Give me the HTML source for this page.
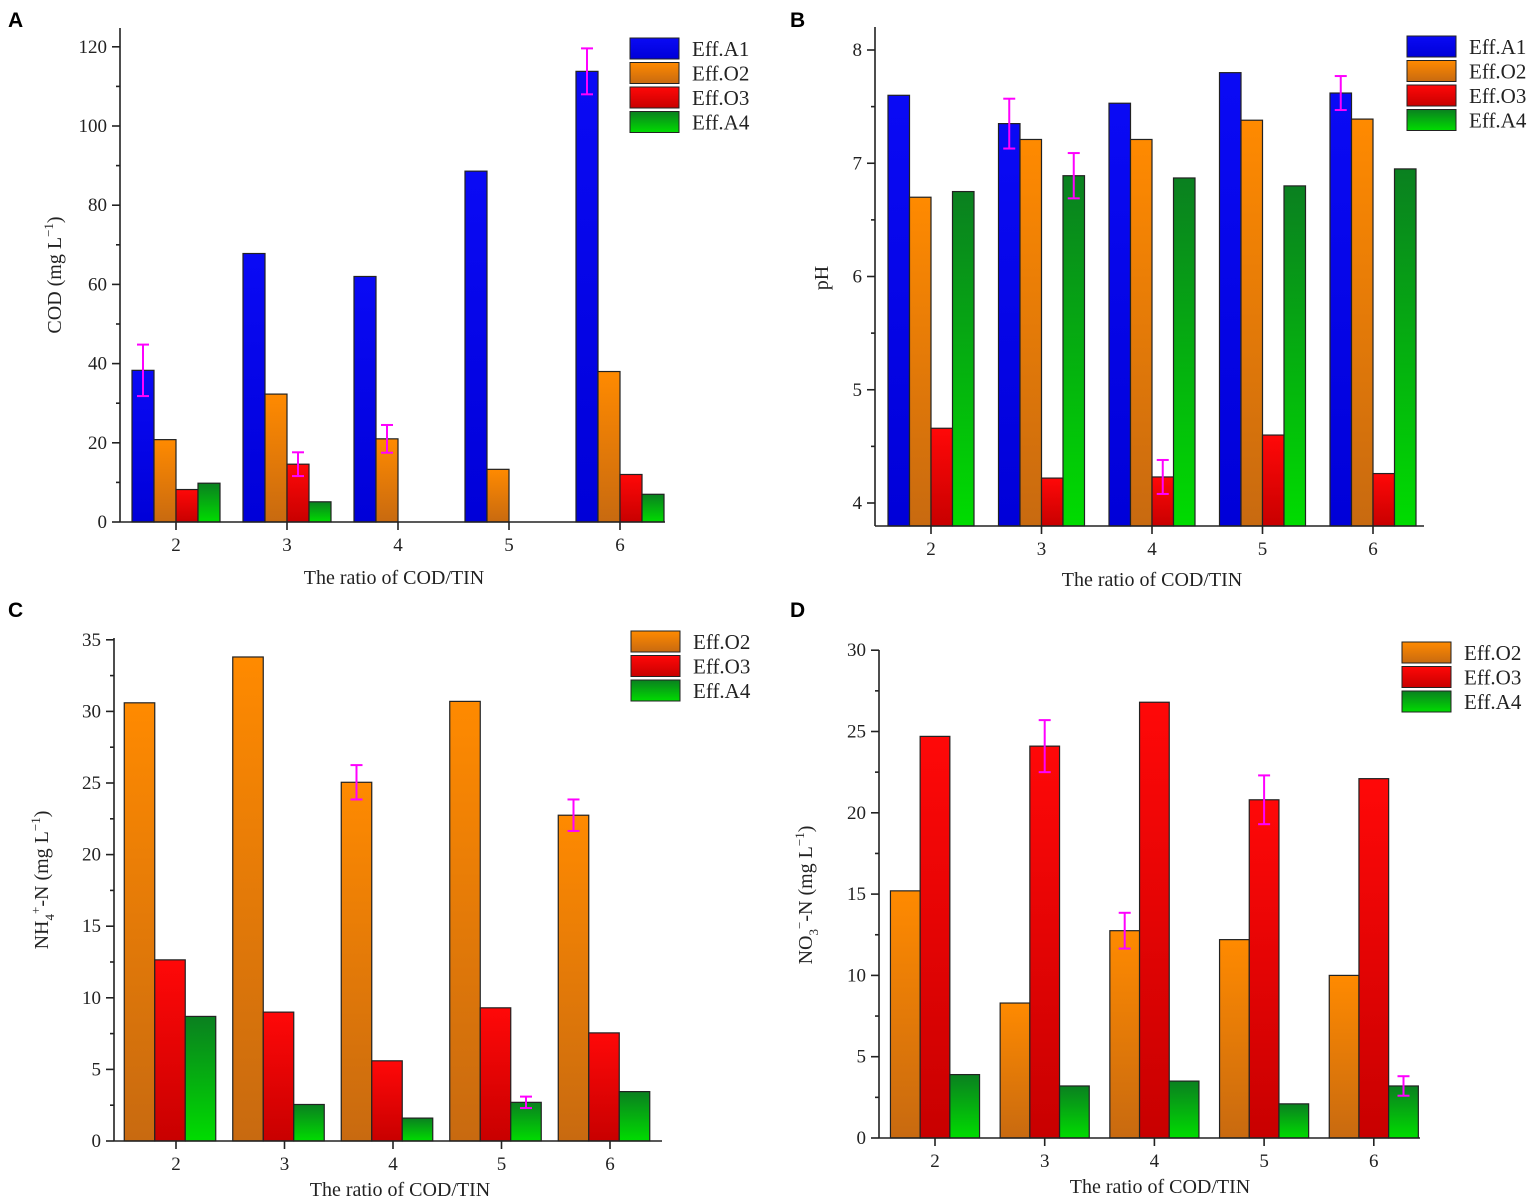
<!DOCTYPE html>
<html><head><meta charset="utf-8"><style>
body{margin:0;background:#fff;}
svg{display:block;font-family:"Liberation Serif",serif;}
</style></head><body>
<svg id="fig" width="1535" height="1199" viewBox="0 0 1535 1199">
<defs>
<linearGradient id="gA1" x1="0" y1="0" x2="0" y2="1"><stop offset="0" stop-color="#0a0af5"/><stop offset="1" stop-color="#0000d8"/></linearGradient>
<linearGradient id="gO2" x1="0" y1="0" x2="0" y2="1"><stop offset="0" stop-color="#ff8a00"/><stop offset="1" stop-color="#c86a10"/></linearGradient>
<linearGradient id="gO3" x1="0" y1="0" x2="0" y2="1"><stop offset="0" stop-color="#ff0808"/><stop offset="1" stop-color="#c80000"/></linearGradient>
<linearGradient id="gA4" x1="0" y1="0" x2="0" y2="1"><stop offset="0" stop-color="#0a8020"/><stop offset="1" stop-color="#00dc00"/></linearGradient>
</defs>
</svg>
<script>
const categories = [2,3,4,5,6];
// Panel A: COD
const codA1 = [38.3,67.8,62,88.6,113.8];
const codO2 = [20.8,32.3,21,13.3,38];
const codO3 = [8.2,14.6,0,0,12];
const codA4 = [9.8,5.1,0,0,7];
const codErrA1 = [6.5,0,0,0,5.8];
const codErrO2 = [0,0,3.5,0,0];
const codErrO3 = [0,3,0,0,0];
const codErrA4 = [0,0,0,0,0];
const codTicks = [0,20,40,60,80,100,120];
// Panel B: pH
const phA1 = [7.6,7.35,7.53,7.8,7.62];
const phO2 = [6.7,7.21,7.21,7.38,7.39];
const phO3 = [4.66,4.22,4.23,4.6,4.26];
const phA4 = [6.75,6.89,6.87,6.8,6.95];
const phErrA1 = [0,0.22,0,0,0.15];
const phErrO2 = [0,0,0,0,0];
const phErrO3 = [0,0,0.15,0,0];
const phErrA4 = [0,0.2,0,0,0];
const phTicks = [4,5,6,7,8];
// Panel C: NH4-N
const nhO2 = [30.6,33.8,25.05,30.7,22.75];
const nhO3 = [12.65,9,5.6,9.3,7.55];
const nhA4 = [8.7,2.55,1.6,2.7,3.45];
const nhErrO2 = [0,0,1.2,0,1.1];
const nhErrO3 = [0,0,0,0,0];
const nhErrA4 = [0,0,0,0.4,0];
const nhTicks = [0,5,10,15,20,25,30,35];
// Panel D: NO3-N
const noO2 = [15.2,8.3,12.75,12.2,10];
const noO3 = [24.7,24.1,26.8,20.8,22.1];
const noA4 = [3.9,3.2,3.5,2.1,3.2];
const noErrO2 = [0,0,1.1,0,0];
const noErrO3 = [0,1.6,0,1.5,0];
const noErrA4 = [0,0,0,0,0.6];
const noTicks = [0,5,10,15,20,25,30];

const NS='http://www.w3.org/2000/svg';
const svg=document.getElementById('fig');
function mk(tag,attrs,parent,text){const e=document.createElementNS(NS,tag);for(const k in attrs)e.setAttribute(k,attrs[k]);if(text!==undefined)e.textContent=text;(parent||svg).appendChild(e);return e;}

function panel(cfg){
  const g=mk('g',{});
  
  
  const y=v=>cfg.y0-(v-cfg.vmin)*cfg.ppu;
  const x=c=>cfg.x2+(c-2)*cfg.step;
  const L=mk('text',{x:cfg.lx,y:cfg.ly,'font-family':'Liberation Sans,sans-serif','font-weight':'bold','font-size':21},g,cfg.letter);
  
  
  cfg.series.forEach((s,si)=>{
    categories.forEach((c,ci)=>{
      const v=s.vals[ci];
      if(v<=cfg.vmin) return;
      const bx=x(c)+cfg.off+(si-cfg.series.length/2)*cfg.bw;
      const r=mk('rect',{x:bx,y:y(v),width:cfg.bw,height:cfg.axisY-y(v),fill:'url(#'+s.grad+')',stroke:'#222','stroke-width':1.2},g);
      
      
      const e=s.err[ci];
      if(e>0){
        const cx=bx+cfg.bw/2;
        const eg=mk('g',{stroke:'#ff00ff','stroke-width':2},g);
        
        
        mk('line',{x1:cx,x2:cx,y1:y(v+e),y2:y(v-e)},eg);
        mk('line',{x1:cx-6,x2:cx+6,y1:y(v+e),y2:y(v+e)},eg);
        mk('line',{x1:cx-6,x2:cx+6,y1:y(v-e),y2:y(v-e)},eg);
      }
    });
  });
  const ax=mk('g',{stroke:'#222','stroke-width':1.6,fill:'none'},g);
  
  
  mk('line',{x1:cfg.axX,x2:cfg.axX,y1:cfg.top,y2:cfg.axisY},ax);
  mk('line',{x1:cfg.axX,x2:cfg.right,y1:cfg.axisY,y2:cfg.axisY},ax);
  cfg.ticks.forEach((t,i)=>{
    mk('line',{x1:cfg.axX-8,x2:cfg.axX,y1:y(t),y2:y(t)},ax);
    if(i<cfg.ticks.length-1){const m=(t+cfg.ticks[i+1])/2;mk('line',{x1:cfg.axX-4,x2:cfg.axX,y1:y(m),y2:y(m)},ax);}
    else if(y(t+(cfg.ticks[1]-cfg.ticks[0])/2)>cfg.top){const m=t+(cfg.ticks[1]-cfg.ticks[0])/2;mk('line',{x1:cfg.axX-4,x2:cfg.axX,y1:y(m),y2:y(m)},ax);}
    const tl=mk('text',{x:cfg.axX-13,y:y(t)+6,'text-anchor':'end','font-size':19,fill:'#222'},g,String(t));
    
    
  });
  categories.forEach(c=>{
    mk('line',{x1:x(c),x2:x(c),y1:cfg.axisY,y2:cfg.axisY+8},ax);
    const tl=mk('text',{x:x(c),y:cfg.axisY+29,'text-anchor':'middle','font-size':19,fill:'#222'},g,String(c));
    
    
  });
  const xt=mk('text',{x:cfg.xtx,y:cfg.axisY+cfg.xty,'text-anchor':'middle','font-size':20,fill:'#222'},g,'The ratio of COD/TIN');
  
  
  const yt=mk('text',{transform:'translate('+cfg.ytx+','+cfg.yty+') rotate(-90)','text-anchor':'middle','font-size':20,fill:'#222'},g);
  
  
  yt.innerHTML=cfg.ytitle;
  cfg.series.forEach((s,si)=>{
    const ly=cfg.legY+si*24.5;
    const lg=mk('g',{},g);
    
    
    mk('rect',{x:cfg.legX,y:ly,width:49,height:21,fill:'url(#'+s.grad+')',stroke:'#222','stroke-width':1},lg);
    mk('text',{x:cfg.legX+62,y:ly+18,'font-size':21,fill:'#222'},lg,s.label);
  });
}

panel({name:'panel-a-cod',letter:'A',lx:8,ly:27,axX:120,top:28,axisY:522,right:665,y0:522,vmin:0,ppu:79.2/20,x2:176,step:111,bw:22,off:0,xty:62,
  ticks:codTicks,xtx:394,ytx:61,yty:275,ytitle:'COD (mg L<tspan font-size="13" dy="-8">−1</tspan><tspan dy="8">)</tspan>',legX:630,legY:38,
  series:[{label:'Eff.A1',grad:'gA1',vals:codA1,err:codErrA1},{label:'Eff.O2',grad:'gO2',vals:codO2,err:codErrO2},{label:'Eff.O3',grad:'gO3',vals:codO3,err:codErrO3},{label:'Eff.A4',grad:'gA4',vals:codA4,err:codErrA4}]});
panel({name:'panel-b-ph',letter:'B',lx:790,ly:27,axX:875,top:27,axisY:526,right:1424,y0:503,vmin:4,ppu:113.25,x2:931,step:110.5,bw:21.5,off:0,xty:60,
  ticks:phTicks,xtx:1152,ytx:828,yty:278,ytitle:'pH',legX:1407,legY:36,
  series:[{label:'Eff.A1',grad:'gA1',vals:phA1,err:phErrA1},{label:'Eff.O2',grad:'gO2',vals:phO2,err:phErrO2},{label:'Eff.O3',grad:'gO3',vals:phO3,err:phErrO3},{label:'Eff.A4',grad:'gA4',vals:phA4,err:phErrA4}]});
panel({name:'panel-c-nh4',letter:'C',lx:8,ly:617,axX:114,top:638,axisY:1141,right:662,y0:1141,vmin:0,ppu:71.6/5,x2:176,step:108.5,bw:30.5,off:-6,xty:55,
  ticks:nhTicks,xtx:400,ytx:48,yty:880,ytitle:'NH<tspan font-size="13" dy="6">4</tspan><tspan font-size="13" dy="-14">+</tspan><tspan dy="8">-N (mg L</tspan><tspan font-size="13" dy="-8">−1</tspan><tspan dy="8">)</tspan>',legX:631,legY:631,
  series:[{label:'Eff.O2',grad:'gO2',vals:nhO2,err:nhErrO2},{label:'Eff.O3',grad:'gO3',vals:nhO3,err:nhErrO3},{label:'Eff.A4',grad:'gA4',vals:nhA4,err:nhErrA4}]});
panel({name:'panel-d-no3',letter:'D',lx:790,ly:617,axX:879,top:650,axisY:1138,right:1420,y0:1138,vmin:0,ppu:81.3/5,x2:935,step:109.7,bw:29.7,off:0,xty:55,
  ticks:noTicks,xtx:1160,ytx:812,yty:895,ytitle:'NO<tspan font-size="13" dy="6">3</tspan><tspan font-size="13" dy="-14">−</tspan><tspan dy="8">-N (mg L</tspan><tspan font-size="13" dy="-8">−1</tspan><tspan dy="8">)</tspan>',legX:1402,legY:642,
  series:[{label:'Eff.O2',grad:'gO2',vals:noO2,err:noErrO2},{label:'Eff.O3',grad:'gO3',vals:noO3,err:noErrO3},{label:'Eff.A4',grad:'gA4',vals:noA4,err:noErrA4}]});
</script>
</body></html>
